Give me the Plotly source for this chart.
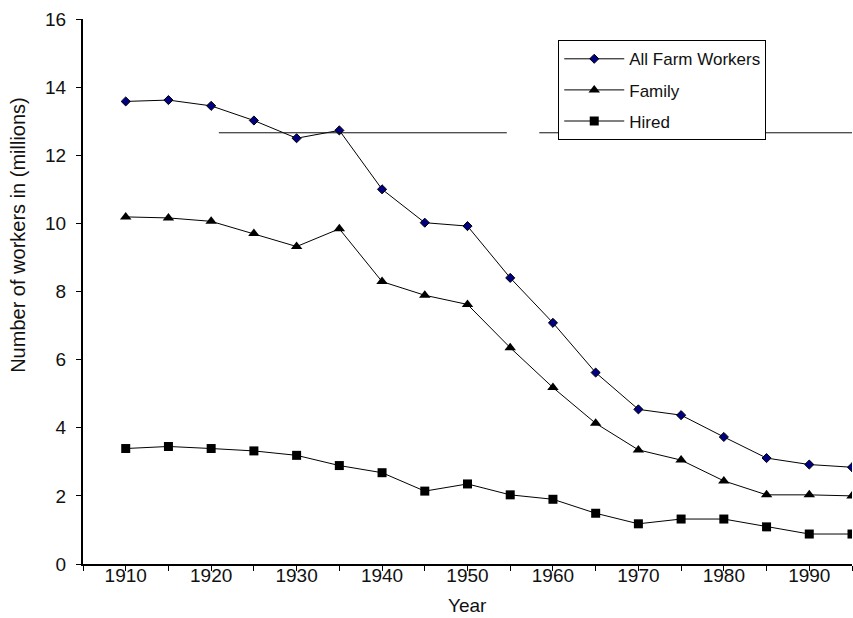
import plotly.graph_objects as go

# Farm labour in the United States, millions of workers
years = [1910, 1915, 1920, 1925, 1930, 1935, 1940, 1945, 1950,
         1955, 1960, 1965, 1970, 1975, 1980, 1985, 1990, 1995]
all_workers = [13.58, 13.62, 13.45, 13.02, 12.50, 12.73, 11.00, 10.02, 9.92,
               8.40, 7.08, 5.62, 4.54, 4.37, 3.73, 3.11, 2.92, 2.84]
family = [10.19, 10.16, 10.06, 9.70, 9.32, 9.84, 8.29, 7.89, 7.62,
          6.35, 5.18, 4.13, 3.35, 3.05, 2.44, 2.03, 2.03, 2.00]
hired = [3.39, 3.45, 3.39, 3.32, 3.19, 2.89, 2.68, 2.14, 2.35,
         2.03, 1.90, 1.49, 1.18, 1.32, 1.32, 1.09, 0.88, 0.88]

x_labels = [1910, 1920, 1930, 1940, 1950, 1960, 1970, 1980, 1990]
y_ticks = [0, 2, 4, 6, 8, 10, 12, 14, 16]

# horizontal rule segments (x start, x end) at a fixed level
rule_level = 12.66
rule_segments = [(1920.9, 1954.6), (1958.4, 1995.0)]

FONT = "Liberation Sans, Arial, sans-serif"
INK = "#111111"

fig = go.Figure()
fig.add_trace(go.Scatter(
    x=years, y=all_workers, name="All Farm Workers", mode="lines+markers",
    line=dict(color="black", width=1),
    marker=dict(symbol="diamond", size=7, color="#000080",
                line=dict(color="black", width=1)),
    legendgroup="a"))
fig.add_trace(go.Scatter(
    x=years, y=family, name="Family", mode="lines+markers",
    line=dict(color="black", width=1),
    marker=dict(symbol="triangle-up", size=10, color="black"),
    legendgroup="b"))
fig.add_trace(go.Scatter(
    x=years, y=hired, name="Hired", mode="lines+markers",
    line=dict(color="black", width=1),
    marker=dict(symbol="square", size=9, color="black"),
    legendgroup="c"))

for x0, x1 in rule_segments:
    fig.add_shape(type="line", xref="x", yref="y", x0=x0, x1=x1,
                  y0=rule_level, y1=rule_level,
                  line=dict(color=INK, width=1))

# axis titles placed as annotations
fig.add_annotation(text="Number of workers in (millions)", textangle=-90,
                   xref="paper", yref="paper", x=-0.0845, y=0.604,
                   xanchor="center", yanchor="middle",
                   showarrow=False, font=dict(family=FONT, size=20, color=INK))
fig.add_annotation(text="Year", xref="paper", yref="paper",
                   x=0.5, y=-0.076, xanchor="center", yanchor="middle",
                   showarrow=False, font=dict(family=FONT, size=19, color=INK))

fig.update_layout(
    width=853, height=618,
    margin=dict(l=83, r=1, t=19, b=54),
    paper_bgcolor="white", plot_bgcolor="white",
    font=dict(family=FONT, size=19, color=INK),
    showlegend=True,
    legend=dict(
        x=0.618, y=0.961, xanchor="left", yanchor="top",
        bgcolor="white", bordercolor="black", borderwidth=1,
        font=dict(family=FONT, size=17, color=INK),
        traceorder="grouped", tracegroupgap=6, itemwidth=60,
    ),
    xaxis=dict(
        range=[1905, 1995], showgrid=False, zeroline=False,
        showline=True, linecolor="black", linewidth=2,
        tickmode="array", tickvals=x_labels, ticktext=[str(v) for v in x_labels],
        ticks="outside", ticklen=5, tickwidth=1, tickcolor="black",
        minor=dict(tick0=1905, dtick=5, ticks="outside", ticklen=5,
                   tickwidth=1, tickcolor="black", showgrid=False),
        tickfont=dict(family=FONT, size=19, color=INK), ticklabelstandoff=-12,
    ),
    yaxis=dict(
        range=[0, 16], showgrid=False, zeroline=False,
        showline=True, linecolor="black", linewidth=2,
        tickmode="array", tickvals=y_ticks,
        ticks="outside", ticklen=5, tickwidth=1, tickcolor="black",
        tickfont=dict(family=FONT, size=19, color=INK), ticklabelstandoff=6,
    ),
)

fig.write_html("out.html")
